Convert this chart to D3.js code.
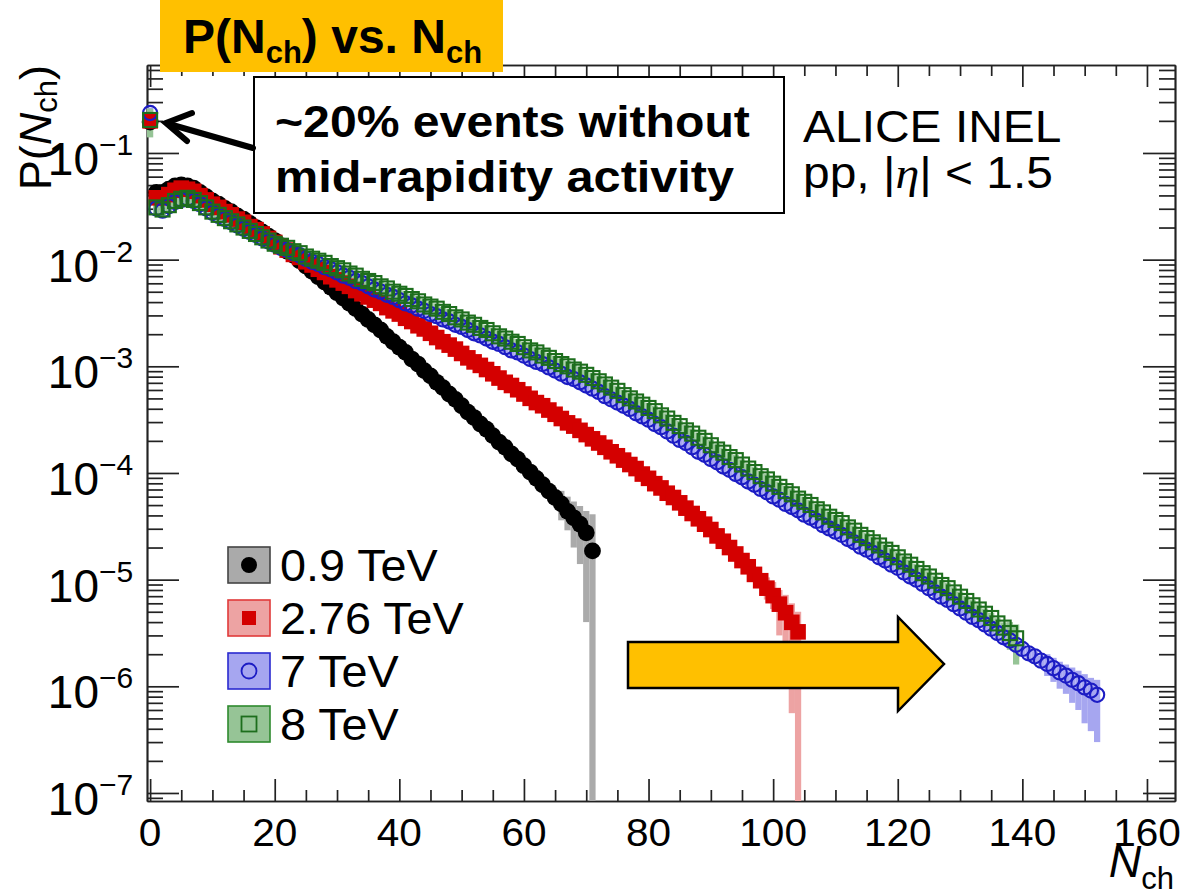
<!DOCTYPE html>
<html><head><meta charset="utf-8">
<script src="https://cdn.jsdelivr.net/npm/d3@7"></script>
<style>body{margin:0;background:#fff} svg{display:block;background:#fff}</style>
</head><body>
<svg id="c" width="1184" height="895"></svg>
<script>
// ---------------- DATA ----------------
const seriesNames = ["0.9 TeV", "2.76 TeV", "7 TeV", "8 TeV"];
// P(Nch) for Nch = 0,1,2,... (index = Nch)
const p09 = [0.195,0.0427,0.0427,0.0457,0.0490,0.0501,0.0490,0.0468,0.0427,0.0389,
0.0355,0.0331,0.0302,0.0282,0.0257,0.0240,0.0219,0.0200,0.0182,0.0166,
0.0151,0.0135,0.0120,0.0110,0.00977,0.00871,0.00776,0.00692,0.00617,0.00550,
0.00490,0.00437,0.00389,0.00347,0.00309,0.00275,0.00245,0.00219,0.00191,0.00170,
0.00151,0.00135,0.00117,0.00105,9.12e-4,8.13e-4,7.08e-4,6.31e-4,5.50e-4,4.90e-4,
4.27e-4,3.72e-4,3.31e-4,2.88e-4,2.57e-4,2.24e-4,1.95e-4,1.74e-4,1.51e-4,1.35e-4,
1.17e-4,1.02e-4,8.91e-5,7.76e-5,6.76e-5,5.89e-5,5.13e-5,4.37e-5,3.80e-5,3.31e-5,
2.75e-5,1.86e-5];
const p276 = [0.200,0.0380,0.0380,0.0407,0.0447,0.0468,0.0457,0.0437,0.0398,0.0363,
0.0331,0.0309,0.0282,0.0263,0.0240,0.0224,0.0204,0.0191,0.0174,0.0158,
0.0145,0.0132,0.0123,0.0112,0.0105,0.00955,0.00891,0.00813,0.00759,0.00692,
0.00646,0.00603,0.00562,0.00513,0.00479,0.00447,0.00417,0.00389,0.00355,0.00331,
0.00309,0.00282,0.00263,0.00240,0.00224,0.00204,0.00186,0.00170,0.00158,0.00145,
0.00132,0.00120,0.00110,0.00102,9.33e-4,8.51e-4,7.76e-4,7.08e-4,6.61e-4,6.03e-4,
5.50e-4,5.01e-4,4.57e-4,4.27e-4,3.89e-4,3.55e-4,3.24e-4,2.95e-4,2.75e-4,2.51e-4,
2.29e-4,2.09e-4,1.91e-4,1.74e-4,1.58e-4,1.45e-4,1.32e-4,1.20e-4,1.10e-4,9.77e-5,
8.91e-5,7.94e-5,7.24e-5,6.46e-5,5.89e-5,5.25e-5,4.68e-5,4.17e-5,3.72e-5,3.31e-5,
2.95e-5,2.57e-5,2.29e-5,2.00e-5,1.74e-5,1.51e-5,1.32e-5,1.12e-5,9.77e-6,8.32e-6,
7.08e-6,5.89e-6,4.90e-6,3.98e-6,3.24e-6];
const p7 = [0.237,0.0302,0.0288,0.0316,0.0347,0.0363,0.0372,0.0355,0.0331,0.0302,
0.0275,0.0257,0.0240,0.0224,0.0209,0.0195,0.0182,0.0170,0.0158,0.0148,
0.0138,0.0129,0.0123,0.0115,0.0110,0.0102,0.00955,0.00912,0.00851,0.00813,
0.00759,0.00708,0.00676,0.00631,0.00603,0.00562,0.00525,0.00501,0.00468,0.00447,
0.00417,0.00389,0.00372,0.00347,0.00331,0.00309,0.00295,0.00275,0.00263,0.00245,
0.00234,0.00219,0.00204,0.00195,0.00182,0.00170,0.00162,0.00151,0.00141,0.00135,
0.00126,0.00117,0.00110,0.00105,9.77e-4,9.12e-4,8.51e-4,7.94e-4,7.59e-4,7.08e-4,
6.61e-4,6.17e-4,5.75e-4,5.25e-4,4.90e-4,4.57e-4,4.27e-4,3.98e-4,3.63e-4,3.39e-4,
3.16e-4,2.88e-4,2.69e-4,2.45e-4,2.24e-4,2.04e-4,1.91e-4,1.74e-4,1.58e-4,1.48e-4,
1.35e-4,1.26e-4,1.15e-4,1.07e-4,9.77e-5,9.12e-5,8.32e-5,7.76e-5,7.08e-5,6.61e-5,
6.03e-5,5.62e-5,5.13e-5,4.79e-5,4.47e-5,4.07e-5,3.80e-5,3.55e-5,3.24e-5,3.02e-5,
2.82e-5,2.63e-5,2.40e-5,2.24e-5,2.04e-5,1.91e-5,1.78e-5,1.62e-5,1.51e-5,1.38e-5,
1.29e-5,1.17e-5,1.07e-5,1.00e-5,9.12e-6,8.32e-6,7.59e-6,6.92e-6,6.46e-6,5.89e-6,
5.37e-6,4.90e-6,4.47e-6,4.17e-6,3.80e-6,3.47e-6,3.16e-6,2.88e-6,2.69e-6,2.45e-6,
2.24e-6,2.04e-6,1.91e-6,1.74e-6,1.62e-6,1.48e-6,1.35e-6,1.26e-6,1.15e-6,1.07e-6,
9.77e-7,9.12e-7,8.32e-7];
const p8 = [0.204,0.0309,0.0295,0.0324,0.0355,0.0372,0.0380,0.0363,0.0339,0.0309,
0.0282,0.0263,0.0245,0.0229,0.0214,0.0200,0.0186,0.0174,0.0162,0.0151,
0.0141,0.0135,0.0129,0.0120,0.0115,0.0107,0.0102,0.00977,0.00933,0.00871,
0.00832,0.00794,0.00741,0.00708,0.00661,0.00631,0.00603,0.00562,0.00537,0.00501,
0.00479,0.00457,0.00427,0.00407,0.00380,0.00363,0.00347,0.00324,0.00309,0.00288,
0.00275,0.00257,0.00245,0.00229,0.00219,0.00204,0.00191,0.00182,0.00170,0.00162,
0.00151,0.00141,0.00135,0.00126,0.00120,0.00112,0.00105,0.00100,9.33e-4,8.91e-4,
8.32e-4,7.76e-4,7.24e-4,6.76e-4,6.31e-4,5.89e-4,5.37e-4,5.01e-4,4.68e-4,4.37e-4,
4.07e-4,3.80e-4,3.47e-4,3.24e-4,2.95e-4,2.75e-4,2.51e-4,2.34e-4,2.14e-4,2.00e-4,
1.82e-4,1.66e-4,1.55e-4,1.41e-4,1.32e-4,1.20e-4,1.10e-4,1.02e-4,9.33e-5,8.71e-5,
7.94e-5,7.41e-5,6.76e-5,6.31e-5,5.75e-5,5.37e-5,5.01e-5,4.57e-5,4.27e-5,3.89e-5,
3.63e-5,3.39e-5,3.09e-5,2.88e-5,2.63e-5,2.45e-5,2.24e-5,2.09e-5,1.91e-5,1.78e-5,
1.62e-5,1.48e-5,1.38e-5,1.26e-5,1.15e-5,1.07e-5,9.77e-6,8.91e-6,8.32e-6,7.59e-6,
6.92e-6,6.31e-6,5.75e-6,5.25e-6,4.79e-6,4.37e-6,3.89e-6,3.55e-6,3.16e-6,2.82e-6];
// systematic band: typical relative size in the bulk
const sysRel = [0.08, 0.08, 0.12, 0.12];
// visible band edges at the tails: [Nch, low, high]
const band09 = [[66,3.6e-5,6.8e-5],[67,2.9e-5,6.0e-5],[68,2.0e-5,5.4e-5],[69,1.4e-5,4.9e-5],[70,4.0e-6,4.4e-5],[71,1e-9,4.1e-5]];
const band276 = [[99,6.5e-6,1.05e-5],[100,5.3e-6,9.5e-6],[101,3.0e-6,8.0e-6],[102,2.6e-6,7.2e-6],[103,5.6e-7,6.0e-6],[104,1e-9,5.0e-6]];
const band7 = [[144,1.25e-6,2.0e-6],[145,1.1e-6,1.85e-6],[146,9.5e-7,1.7e-6],[147,8.5e-7,1.6e-6],[148,7.0e-7,1.5e-6],[149,6.0e-7,1.4e-6],[150,4.5e-7,1.3e-6],[151,3.8e-7,1.2e-6],[152,3.0e-7,1.15e-6]];
const band8 = [[0,0.14,0.26],[138,2.2e-6,4.0e-6],[139,1.6e-6,3.8e-6]];
// tick labels
const xTickLabels = [0,20,40,60,80,100,120,140,160];
const yDecadeExps = [-1,-2,-3,-4,-5,-6,-7];

// ---------------- STYLE ----------------
const markerColor = ["#000000", "#d40000", "#1c1cc4", "#1d6e1d"];
const bandColor = ["#aaaaaa", "#eda3a3", "#a6a6f0", "#96c496"];
const legendBorder = ["#444444", "#e03a3a", "#2a2ad0", "#2e8a2e"];
const FONT = "'Liberation Sans', Arial, Helvetica, sans-serif";

const svg = d3.select("#c");
const x = d3.scaleLinear().domain([-0.5, 164.5]).range([147, 1175]);
const y = d3.scaleLog().domain([8.41e-8, 0.668]).range([801, 65]).clamp(true);

// ---------------- AXES ----------------
const xMinor = d3.range(0, 165, 5).filter(v => v % 20 !== 0);
const yMajor = yDecadeExps.map(e => Math.pow(10, e));
const yMinor = y.ticks(60).filter(v => {
  const l = Math.log10(v); return Math.abs(l - Math.round(l)) > 1e-6;
});
const axG = svg.append("g").attr("class", "axes");
function styleAxis(g) {
  g.selectAll("path,line").attr("stroke", "#222").attr("stroke-width", 1.7);
  g.selectAll("text").remove();
}
axG.append("g").attr("transform", "translate(0,801)")
  .call(d3.axisBottom(x).tickValues(xTickLabels).tickSizeInner(-22).tickSizeOuter(0).tickFormat("")).call(styleAxis);
axG.append("g").attr("transform", "translate(0,801)")
  .call(d3.axisBottom(x).tickValues(xMinor).tickSizeInner(-11).tickSizeOuter(0).tickFormat("")).call(styleAxis);
axG.append("g").attr("transform", "translate(0,65)")
  .call(d3.axisTop(x).tickValues(xTickLabels).tickSizeInner(-22).tickSizeOuter(0).tickFormat("")).call(styleAxis);
axG.append("g").attr("transform", "translate(0,65)")
  .call(d3.axisTop(x).tickValues(xMinor).tickSizeInner(-11).tickSizeOuter(0).tickFormat("")).call(styleAxis);
axG.append("g").attr("transform", "translate(147,0)")
  .call(d3.axisLeft(y).tickValues(yMajor).tickSizeInner(-32).tickSizeOuter(0).tickFormat("")).call(styleAxis);
axG.append("g").attr("transform", "translate(147,0)")
  .call(d3.axisLeft(y).tickValues(yMinor).tickSizeInner(-16).tickSizeOuter(0).tickFormat("")).call(styleAxis);
axG.append("g").attr("transform", "translate(1175,0)")
  .call(d3.axisRight(y).tickValues(yMajor).tickSizeInner(-32).tickSizeOuter(0).tickFormat("")).call(styleAxis);
axG.append("g").attr("transform", "translate(1175,0)")
  .call(d3.axisRight(y).tickValues(yMinor).tickSizeInner(-16).tickSizeOuter(0).tickFormat("")).call(styleAxis);

// x tick labels
svg.append("g").selectAll("text").data(xTickLabels).join("text")
  .attr("transform", d => `translate(${x(d)},846) scale(1.04,1)`).attr("text-anchor", "middle")
  .attr("font-family", FONT).attr("font-size", 39).attr("fill", "#000").text(d => d);
// y tick labels 10^-k
const yl = svg.append("g");
yl.selectAll("text.b").data(yDecadeExps).join("text").attr("class", "b")
  .attr("x", 99).attr("y", d => y(Math.pow(10, d)) + 22).attr("text-anchor", "end")
  .attr("font-family", FONT).attr("font-size", 46).text("10");
yl.selectAll("text.e").data(yDecadeExps).join("text").attr("class", "e")
  .attr("x", 99).attr("y", d => y(Math.pow(10, d)) + 2).attr("text-anchor", "start")
  .attr("font-family", FONT).attr("font-size", 30).text(d => "\u2212" + Math.abs(d));

// axis titles
const yt = svg.append("text").attr("transform", "translate(51,65) rotate(-90)")
  .attr("text-anchor", "end").attr("font-family", FONT).attr("font-size", 45);
yt.append("tspan").text("P(");
yt.append("tspan").attr("font-style", "italic").text("N");
yt.append("tspan").attr("font-size", 31).attr("dy", 6).text("ch");
yt.append("tspan").attr("dy", -6).text(")");
const xt = svg.append("text").attr("x", 1174).attr("y", 877).attr("text-anchor", "end")
  .attr("font-family", FONT).attr("font-size", 45);
xt.append("tspan").attr("font-style", "italic").text("N");
xt.append("tspan").attr("font-size", 31).attr("dy", 12).text("ch");

// ---------------- DATA MARKS ----------------
const allSeries = [p09, p276, p7, p8];
const tails = [band09, band276, band7, band8];
const plotG = svg.append("g");
allSeries.forEach((vals, si) => {
  const tailMap = new Map(tails[si].map(t => [t[0], t]));
  const bands = vals.map((v, n) => tailMap.has(n) ? {n, lo: tailMap.get(n)[1], hi: tailMap.get(n)[2]}
                                                   : {n, lo: v * (1 - sysRel[si]), hi: v * (1 + sysRel[si])});
  plotG.append("g").selectAll("rect").data(bands).join("rect")
    .attr("x", d => x(d.n - 0.5)).attr("width", d => x(d.n + 0.5) - x(d.n - 0.5))
    .attr("y", d => y(d.hi)).attr("height", d => Math.max(0, y(d.lo) - y(d.hi)))
    .attr("fill", bandColor[si]).attr("stroke", "none");
});
function drawMarker(g, si, cx, cy) {
  if (si === 0) g.append("circle").attr("cx", cx).attr("cy", cy).attr("r", 8.4).attr("fill", markerColor[0]);
  else if (si === 1) g.append("rect").attr("x", cx - 7.8).attr("y", cy - 7.8).attr("width", 15.6).attr("height", 15.6).attr("fill", markerColor[1]);
  else if (si === 2) g.append("circle").attr("cx", cx).attr("cy", cy).attr("r", 7.1).attr("fill", "none").attr("stroke", markerColor[2]).attr("stroke-width", 2.1);
  else g.append("rect").attr("x", cx - 7).attr("y", cy - 7).attr("width", 14).attr("height", 14).attr("fill", "none").attr("stroke", markerColor[3]).attr("stroke-width", 2.1);
}
allSeries.forEach((vals, si) => {
  const g = plotG.append("g");
  vals.forEach((v, n) => drawMarker(g, si, x(n), y(v)));
});

// ---------------- LEGEND ----------------
const lg = svg.append("g");
seriesNames.forEach((name, i) => {
  const cy = 565 + i * 53;
  lg.append("rect").attr("x", 228).attr("y", cy - 18).attr("width", 42).attr("height", 36)
    .attr("fill", bandColor[i]).attr("stroke", legendBorder[i]).attr("stroke-width", 1.6);
  const mg = lg.append("g");
  if (i === 0) mg.append("circle").attr("cx", 249).attr("cy", cy).attr("r", 8).attr("fill", markerColor[0]);
  else if (i === 1) mg.append("rect").attr("x", 242).attr("y", cy - 7).attr("width", 14).attr("height", 14).attr("fill", markerColor[1]);
  else if (i === 2) mg.append("circle").attr("cx", 249).attr("cy", cy).attr("r", 7.5).attr("fill", "none").attr("stroke", markerColor[2]).attr("stroke-width", 1.8);
  else mg.append("rect").attr("x", 241.5).attr("y", cy - 7.5).attr("width", 15).attr("height", 15).attr("fill", "none").attr("stroke", markerColor[3]).attr("stroke-width", 1.8);
  lg.append("text").attr("transform", `translate(280,${cy + 16}) scale(1.04,1)`).attr("font-family", FONT)
    .attr("font-size", 45).text(name);
});

// ALICE labels
svg.append("text").attr("transform", "translate(803,142) scale(1.09,1)").attr("font-family", FONT).attr("font-size", 44).text("ALICE INEL");
const pp = svg.append("text").attr("transform", "translate(803,188) scale(1.09,1)").attr("font-family", FONT).attr("font-size", 44);
pp.append("tspan").text("pp, |");
pp.append("tspan").attr("font-family", "'Liberation Serif', 'Times New Roman', serif").attr("font-style", "italic").text("\u03B7");
pp.append("tspan").text("| < 1.5");

// ---------------- ANNOTATIONS ----------------
svg.append("rect").attr("x", 160).attr("y", 0).attr("width", 343).attr("height", 72).attr("fill", "#FFC000");
const tt = svg.append("text").attr("x", 183).attr("y", 53).attr("font-family", FONT)
  .attr("font-weight", "bold").attr("font-size", 48);
tt.append("tspan").text("P(N");
tt.append("tspan").attr("font-size", 31).attr("dy", 10).text("ch");
tt.append("tspan").attr("dy", -10).text(") vs. N");
tt.append("tspan").attr("font-size", 31).attr("dy", 10).text("ch");

svg.append("rect").attr("x", 254).attr("y", 77).attr("width", 530).attr("height", 136)
  .attr("fill", "#fff").attr("stroke", "#000").attr("stroke-width", 2);
svg.append("text").attr("transform", "translate(275,137) scale(1.07,1)").attr("font-family", FONT).attr("font-weight", "bold")
  .attr("font-size", 45).text("~20% events without");
svg.append("text").attr("transform", "translate(275,192) scale(1.08,1)").attr("font-family", FONT).attr("font-weight", "bold")
  .attr("font-size", 45).text("mid-rapidity activity");

// pointer arrow
const ag = svg.append("g").attr("stroke", "#000").attr("stroke-width", 6).attr("stroke-linecap", "round").attr("fill", "none");
ag.append("line").attr("x1", 253).attr("y1", 148).attr("x2", 169).attr("y2", 124);
ag.append("polyline").attr("points", "192,113 166,123 187,141").attr("stroke-linejoin", "miter");

// big orange arrow
svg.append("path").attr("d", "M628,642 L898,642 L898,617 L944,664 L898,711 L898,688 L628,688 Z")
  .attr("fill", "#FFC000").attr("stroke", "#000").attr("stroke-width", 2.5).attr("stroke-linejoin", "miter");
</script>
</body></html>
